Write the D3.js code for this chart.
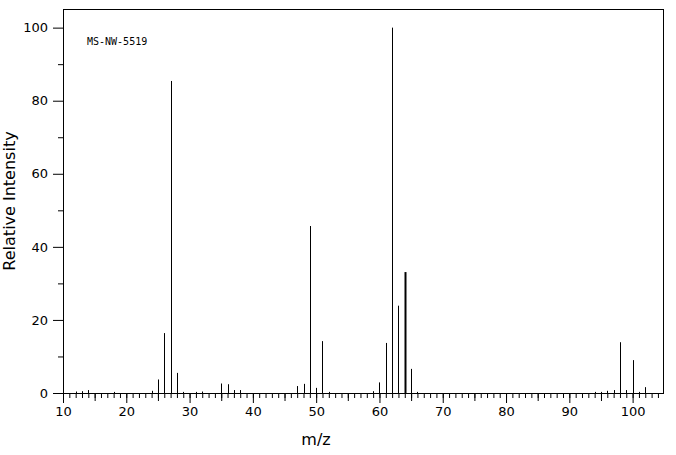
<!DOCTYPE html>
<html>
<head>
<meta charset="utf-8">
<script src="https://cdn.jsdelivr.net/npm/d3@7"></script>
<style>
  body { margin: 0; background: #fff; }
  svg { display: block; }
  .axis text { font-family: "DejaVu Sans", sans-serif; font-size: 13px; fill: #000; }
  .axis line { stroke: #000; }
</style>
</head>
<body>
<div id="chart"></div>
<script>
// peaks
const mz = [12, 13, 14, 18, 24, 25, 26, 27, 28, 29, 31, 32, 35, 36, 37, 38,
            47, 48, 49, 50, 51, 52, 59, 60, 61, 62, 63, 64, 65, 66,
            94, 95, 96, 97, 98, 99, 100, 101, 102];
const intensity = [0.4, 0.5, 0.8, 0.3, 0.6, 3.7, 16.4, 85.4, 5.5, 0.3, 0.3, 0.4, 2.6, 2.4, 0.8, 0.8,
                   1.9, 2.5, 45.7, 1.4, 14.2, 0.3, 0.5, 2.9, 13.7, 100, 23.9, 33.1, 6.6, 0.3,
                   0.3, 0.3, 0.6, 0.8, 13.9, 0.8, 9.0, 0.3, 1.6];
const xMajor = [10, 20, 30, 40, 50, 60, 70, 80, 90, 100];
const yMajor = [0, 20, 40, 60, 80, 100];
const sampleId = "MS-NW-5519";

const width = 676, height = 455;
const plotL = 63, plotR = 663, plotT = 9, plotB = 393;

const svg = d3.select("#chart").append("svg")
    .attr("width", width)
    .attr("height", height);

const x = d3.scaleLinear().domain([10, 104.8]).range([plotL, plotR]);
const y = d3.scaleLinear().domain([0, 105.1]).range([plotB, plotT]);

//--------------------------- AXES ---------------------------//
// minor x ticks every 1, medium every 5, major every 10
svg.append("g").attr("class", "axis")
    .attr("transform", "translate(0," + plotB + ")")
    .call(d3.axisBottom(x).tickValues(d3.range(11, 105)).tickSize(5).tickFormat(""))
    .call(g => g.select(".domain").remove());
svg.append("g").attr("class", "axis")
    .attr("transform", "translate(0," + plotB + ")")
    .call(d3.axisBottom(x).tickValues(d3.range(15, 105, 10)).tickSize(8).tickFormat(""))
    .call(g => g.select(".domain").remove());
svg.append("g").attr("class", "axis")
    .attr("transform", "translate(0," + plotB + ")")
    .call(d3.axisBottom(x).tickValues(xMajor).tickSize(10).tickPadding(4))
    .call(g => g.select(".domain").remove());

svg.append("g").attr("class", "axis")
    .attr("transform", "translate(" + plotL + ",0)")
    .call(d3.axisLeft(y).tickValues(d3.range(10, 101, 20)).tickSize(5).tickFormat(""))
    .call(g => g.select(".domain").remove());
svg.append("g").attr("class", "axis")
    .attr("transform", "translate(" + plotL + ",0)")
    .call(d3.axisLeft(y).tickValues(yMajor).tickSize(10).tickPadding(5))
    .call(g => g.select(".domain").remove());

// frame
svg.append("rect")
    .attr("x", plotL + 0.5).attr("y", plotT + 0.5)
    .attr("width", plotR - plotL).attr("height", plotB - plotT)
    .attr("fill", "none").attr("stroke", "#000");

//--------------------------- PEAKS ---------------------------//
svg.append("g").selectAll("line")
    .data(mz.map((m, i) => ({ m: m, v: intensity[i] })))
    .enter().append("line")
    .attr("x1", d => Math.round(x(d.m)) + 0.5)
    .attr("x2", d => Math.round(x(d.m)) + 0.5)
    .attr("y1", y(0))
    .attr("y2", d => y(d.v))
    .attr("stroke", "#000")
    .attr("stroke-width", d => d.m === 64 ? 2 : 1);

//--------------------------- LABELS ---------------------------//
svg.append("text")
    .attr("x", 316)
    .attr("y", 445)
    .attr("text-anchor", "middle")
    .style("font-family", "DejaVu Sans, sans-serif")
    .style("font-size", "16px")
    .text("m/z");

svg.append("text")
    .attr("transform", "translate(15," + (plotT + plotB) / 2 + ") rotate(-90)")
    .attr("text-anchor", "middle")
    .style("font-family", "DejaVu Sans, sans-serif")
    .style("font-size", "16px")
    .text("Relative Intensity");

svg.append("text")
    .attr("x", 87)
    .attr("y", 45)
    .style("font-family", "DejaVu Sans Mono, monospace")
    .style("font-size", "10px")
    .text(sampleId);
</script>
</body>
</html>
